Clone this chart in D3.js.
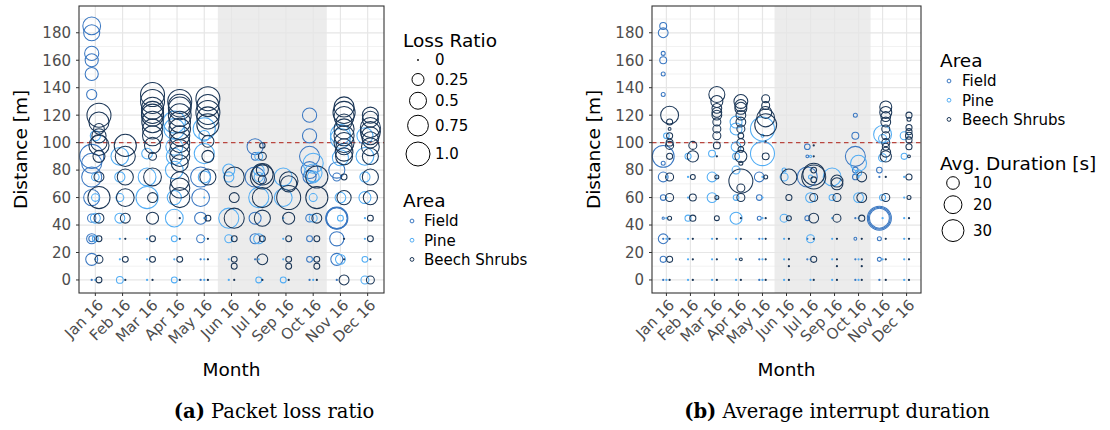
<!DOCTYPE html>
<html>
<head>
<meta charset="utf-8">
<script src="https://cdn.jsdelivr.net/npm/d3@7"></script>
<style>
  body { margin: 0; background: #fff; }
  text { font-family: "DejaVu Sans", sans-serif; }
</style>
</head>
<body>
<svg id="fig" width="1110" height="430"></svg>
<script>
// ---- data ----
const monthKeys = ["Jan", "Feb", "Mar", "Apr", "May", "Jun", "Jul", "Sep", "Oct", "Nov", "Dec"];
const monthLabels = ["Jan 16", "Feb 16", "Mar 16", "Apr 16", "May 16", "Jun 16", "Jul 16", "Sep 16", "Oct 16", "Nov 16", "Dec 16"];
const areaNames = ["Field", "Pine", "Beech Shrubs"];
const areaColors = ["#3b78c2", "#52adf4", "#1c3757"];
const yTicks = [0, 20, 40, 60, 80, 100, 120, 140, 160, 180];
const yMinor = [10, 30, 50, 70, 90, 110, 130, 150, 170, 190];
const shadedMonths = ["Jun", "Oct"];
const limitDistance = 100;
const lossBreaks = [0, 0.25, 0.5, 0.75, 1.0];
const lossLabels = ["0", "0.25", "0.5", "0.75", "1.0"];
const durBreaks = [10, 20, 30];
const durLabels = ["10", "20", "30"];

// [month, distance (m), loss ratio, avg. interrupt duration (s)]
const fieldPoints = [
  ["Jan",185,0.55,3],["Jan",180,0.45,6],["Jan",165,0.35,1],["Jan",160,0.3,3],["Jan",150,0.3,1],
  ["Jan",135,0.18,1],["Jan",90,1.0,30],["Jan",85,0.7,1],["Jan",75,0.7,6],["Jan",60,0.45,2],
  ["Jan",45,0.12,0.3],["Jan",30,0.18,6],["Jan",30,0.06,0],["Jan",15,0.25,2.3],["Jan",0,0,0],
  ["May",75,0.7,6],["May",60,0.55,2],["May",45,0.25,1],["May",30,0.11,0],["May",15,0,0],["May",0,0,0],
  ["Jul",97,0.45,2],["Jul",90,0.1,0.5],["Jul",75,0.7,25],["Jul",45,0.25,1.5],["Jul",30,0.18,0],["Jul",15,0,0],
  ["Oct",120,0.35,1],["Oct",105,0.35,3],["Oct",90,0.7,25],["Oct",80,0.5,2],["Oct",75,0.3,2],
  ["Oct",45,0.1,0],["Oct",30,0.06,0.5],["Oct",15,0.06,0],["Oct",0,0,0],
  ["Nov",80,0.45,2],["Nov",75,0.11,0],["Nov",45,0.85,36],["Nov",45,0.8,30],["Nov",45,0.75,25],
  ["Nov",30,0.35,1],["Nov",15,0.25,1],["Nov",0,0,0]
];
const pinePoints = [
  ["Jan",105,0.18,2],["Jan",75,0.1,0],["Jan",60,0.1,0],["Jan",45,0.17,0],["Jan",30,0.06,0],["Jan",15,0,0],["Jan",0,0,0],
  ["Feb",90,0.55,2.3],["Feb",75,0.18,0],["Feb",60,0.11,0],["Feb",45,0.17,2.3],["Feb",30,0,0],["Feb",15,0,0],["Feb",0,0.08,0],
  ["Mar",92,0.2,3],["Mar",75,0.55,6],["Mar",60,0.85,6],["Mar",30,0,0],["Mar",15,0,0],["Mar",0,0,0],
  ["Apr",115,0.85,9],["Apr",110,0.75,9],["Apr",97,0.5,6],["Apr",90,0.45,3],["Apr",80,0.55,4],
  ["Apr",60,0.35,2],["Apr",45,0.55,9],["Apr",30,0.06,0],["Apr",15,0,0],["Apr",0,0.06,0],
  ["May",110,0.85,36],["May",105,0.2,0.5],["May",92,0.7,36],["May",75,0.25,0],["May",60,0,0],
  ["May",45,0,0],["May",30,0,0],["May",15,0,0],["May",0,0,0],
  ["Jun",80,0.25,1],["Jun",75,0.18,4],["Jun",45,0.7,4],["Jun",30,0.11,0],["Jun",15,0,0],["Jun",0,0,0],
  ["Jul",90,0.11,0.3],["Jul",80,0.2,0],["Jul",75,0.15,1],["Jul",60,0.7,6],["Jul",30,0.18,4],["Jul",15,0,0],["Jul",0,0.06,0],
  ["Sep",75,0.55,20],["Sep",60,0.55,2.3],["Sep",45,0,0],["Sep",30,0,0],["Sep",15,0,0],["Sep",0,0.06,0],
  ["Oct",85,0.7,16],["Oct",78,0.55,2.3],["Oct",75,0.25,0],["Oct",60,0.11,6],["Oct",45,0.11,0],["Oct",15,0,0],["Oct",0,0,0],
  ["Nov",106,0.7,20],["Nov",103,0.7,4],["Nov",89,0.45,4],["Nov",60,0.2,2.3],["Nov",45,0.06,0],["Nov",15,0.17,0],
  ["Dec",105,0.45,4],["Dec",90,0.55,2.3],["Dec",75,0.18,0],["Dec",60,0.25,0],["Dec",45,0,0],
  ["Dec",30,0,0],["Dec",15,0.06,0],["Dec",0,0.11,0]
];
const beechPoints = [
  ["Jan",120,1.0,20],["Jan",115,0.7,2.3],["Jan",110,0.2,0.5],["Jan",105,0.35,2.3],["Jan",100,0.45,3],
  ["Jan",98,0.7,4],["Jan",90,0.25,2.3],["Jan",75,0.17,4],["Jan",60,0.85,4],["Jan",45,0.17,1],
  ["Jan",30,0.06,0],["Jan",15,0.11,2.3],["Jan",0,0.06,0],
  ["Feb",98,0.85,4],["Feb",90,0.7,8],["Feb",75,0.45,1.5],["Feb",60,0.55,3],["Feb",45,0.17,2.3],
  ["Feb",30,0,0],["Feb",15,0.06,0],["Feb",0,0,0],
  ["Mar",135,1.0,16],["Mar",130,1.0,9],["Mar",125,0.85,6],["Mar",122,0.85,6],["Mar",120,0.85,6],
  ["Mar",115,0.8,4],["Mar",110,0.7,4],["Mar",105,0.7,4],["Mar",98,0.45,3],["Mar",90,0.11,0],
  ["Mar",75,0.55,1],["Mar",60,0.17,1],["Mar",45,0.25,1.5],["Mar",30,0.06,0],["Mar",15,0.06,0],["Mar",0,0,0],
  ["Apr",130,1.0,12],["Apr",127,0.9,9],["Apr",125,0.9,9],["Apr",120,0.9,6],["Apr",115,0.8,6],
  ["Apr",110,0.8,4],["Apr",105,0.7,2],["Apr",100,0.7,4],["Apr",95,0.7,2],["Apr",90,0.7,9],
  ["Apr",85,0.5,1],["Apr",72,0.6,36],["Apr",67,0.7,4],["Apr",60,0.7,4],["Apr",45,0,0],
  ["Apr",30,0,0],["Apr",15,0.06,0.5],["Apr",0,0,0],
  ["May",132,1.0,4],["May",127,0.85,4],["May",122,1.0,9],["May",118,0.85,20],["May",113,0.85,30],
  ["May",101,0.25,0],["May",90,0.25,3],["May",75,0.45,1],["May",45,0.06,0],["May",30,0,0],["May",15,0,0],["May",0,0,0],
  ["Jun",75,0.7,16],["Jun",60,0.17,2.3],["Jun",45,0.7,1.5],["Jun",30,0.06,0],["Jun",15,0.06,0],["Jun",10,0.06,0],["Jun",0,0,0],
  ["Jul",98,0.05,0],["Jul",90,0.11,0],["Jul",80,0.25,2],["Jul",77,0.8,30],["Jul",75,1.0,36],["Jul",73,0.11,2],
  ["Jul",60,0.7,4],["Jul",45,0.45,6],["Jul",30,0.06,0],["Jul",15,0.2,2.3],["Jul",0,0,0],
  ["Sep",72,0.6,9],["Sep",70,0.45,9],["Sep",60,1.0,4],["Sep",45,0.25,4],["Sep",30,0.06,0],
  ["Sep",15,0.06,0],["Sep",10,0.06,0],["Sep",0,0,0],
  ["Oct",75,0.85,6],["Oct",60,0.85,6],["Oct",45,0.17,2.3],["Oct",30,0.06,0],["Oct",15,0.06,0],["Oct",10,0.06,0],["Oct",0,0,0],
  ["Nov",126,0.7,9],["Nov",122,0.85,9],["Nov",119,0.7,6],["Nov",115,0.45,6],["Nov",110,0.7,4],
  ["Nov",105,0.7,4],["Nov",100,0.7,4],["Nov",97,0.45,3],["Nov",93,0.55,6],["Nov",90,0.5,8],
  ["Nov",75,0.06,0],["Nov",60,0.35,4],["Nov",30,0,0],["Nov",15,0,0],["Nov",0,0.17,0],
  ["Dec",120,0.45,2.3],["Dec",117,0.45,1],["Dec",111,0.7,2.3],["Dec",108,0.7,2.3],["Dec",105,0.55,3],
  ["Dec",102,0.45,2.3],["Dec",97,0.55,2.3],["Dec",90,0.45,0.5],["Dec",75,0.45,2.3],["Dec",60,0.35,1],
  ["Dec",45,0.06,0],["Dec",30,0.06,0],["Dec",15,0,0],["Dec",0,0.11,0]
];
const areaPoints = [fieldPoints, pinePoints, beechPoints];

// ---- drawing ----
const svg = d3.select("#fig");

// flat list of points, with area index
let points = [];
areaPoints.forEach(function(list, a) {
  list.forEach(function(p) {
    points.push({month: p[0], dist: p[1], loss: p[2], dur: p[3], area: a});
  });
});

// dodge like ggplot: groups present in a month share the slot
let present = {};
monthKeys.forEach(function(m) {
  present[m] = areaNames.map((n, a) => a).filter(a => points.some(p => p.month == m && p.area == a));
});

const rLoss = d3.scaleSqrt().domain([0, 1]).range([0, 12]);
const rDur = d3.scaleSqrt().domain([0, 36]).range([0, 12]);

function drawPanel(left, right, key, rScale) {
  let top = 6, bottom = 293;
  let x = d3.scalePoint().domain(monthKeys).range([left, right]).padding(0.6);
  let y = d3.scaleLinear().domain([-9.5, 199.5]).range([bottom, top]);
  let step = x.step();
  let g = svg.append("g");

  // grid
  g.selectAll(".minor").data(yMinor).enter().append("line")
    .attr("x1", left).attr("x2", right)
    .attr("y1", d => y(d)).attr("y2", d => y(d))
    .attr("stroke", "#ededed").attr("stroke-width", 0.7);
  g.selectAll(".major").data(yTicks).enter().append("line")
    .attr("x1", left).attr("x2", right)
    .attr("y1", d => y(d)).attr("y2", d => y(d))
    .attr("stroke", "#e6e6e6").attr("stroke-width", 1.2);
  g.selectAll(".vmajor").data(monthKeys).enter().append("line")
    .attr("x1", d => x(d)).attr("x2", d => x(d))
    .attr("y1", top).attr("y2", bottom)
    .attr("stroke", "#e6e6e6").attr("stroke-width", 1.2);

  // shaded months
  g.append("rect")
    .attr("x", x(shadedMonths[0]) - step / 2)
    .attr("width", x(shadedMonths[1]) - x(shadedMonths[0]) + step)
    .attr("y", top).attr("height", bottom - top)
    .attr("fill", "#e6e6e6").attr("fill-opacity", 0.75);

  // 100 m line
  g.append("line")
    .attr("x1", left).attr("x2", right)
    .attr("y1", y(limitDistance)).attr("y2", y(limitDistance))
    .attr("stroke", "#b9463f").attr("stroke-width", 1.1)
    .attr("stroke-dasharray", "4.5,3.5");

  // bubbles
  g.selectAll(".pt").data(points).enter().append("circle")
    .attr("cx", function(d) {
      let groups = present[d.month];
      let n = groups.length;
      let idx = groups.indexOf(d.area);
      return x(d.month) + (idx - (n - 1) / 2) * (0.4 * step / n);
    })
    .attr("cy", d => y(d.dist))
    .attr("r", d => Math.max(0.6, rScale(d[key])))
    .attr("fill", "none")
    .attr("stroke", d => areaColors[d.area])
    .attr("stroke-width", 1.05);

  // border
  g.append("rect")
    .attr("x", left).attr("y", top)
    .attr("width", right - left).attr("height", bottom - top)
    .attr("fill", "none").attr("stroke", "#333").attr("stroke-width", 1.1);

  // y axis
  g.selectAll(".ytick").data(yTicks).enter().append("line")
    .attr("x1", left - 3).attr("x2", left)
    .attr("y1", d => y(d)).attr("y2", d => y(d))
    .attr("stroke", "#333");
  g.selectAll(".ylab").data(yTicks).enter().append("text")
    .attr("x", left - 8).attr("y", d => y(d))
    .attr("dy", "0.36em")
    .attr("text-anchor", "end")
    .attr("font-size", 15).attr("fill", "#4d4d4d")
    .text(d => d);

  // x axis
  g.selectAll(".xtick").data(monthKeys).enter().append("line")
    .attr("x1", d => x(d)).attr("x2", d => x(d))
    .attr("y1", bottom).attr("y2", bottom + 3)
    .attr("stroke", "#333");
  g.selectAll(".xlab").data(monthKeys).enter().append("text")
    .attr("transform", d => "translate(" + (x(d) + 1) + "," + (bottom + 5) + ") rotate(-45)")
    .attr("dy", "0.75em")
    .attr("text-anchor", "end")
    .attr("font-size", 15).attr("fill", "#4d4d4d")
    .text((d, i) => monthLabels[i]);

  // titles
  g.append("text")
    .attr("x", (left + right) / 2).attr("y", 376)
    .attr("text-anchor", "middle").attr("font-size", 18.5)
    .text("Month");
  g.append("text")
    .attr("transform", "translate(" + (left - 52) + "," + ((top + bottom) / 2) + ") rotate(-90)")
    .attr("text-anchor", "middle").attr("font-size", 18.5)
    .text("Distance [m]");
}

drawPanel(79, 384, "loss", rLoss);
drawPanel(652, 921, "dur", rDur);

// ---- legends ----
function sizeLegend(lx, ly, title, breaks, labels, rScale, symX, labX) {
  let g = svg.append("g");
  g.append("text").attr("x", lx).attr("y", ly).attr("font-size", 18.5).text(title);
  let cy = ly + 13;
  let prevH = null;
  breaks.forEach(function(b, i) {
    let r = Math.max(0.6, rScale(b));
    let h = Math.max(19.5, 2 * r + 6);
    if (prevH != null) cy += (prevH + h) / 2;
    prevH = h;
    g.append("circle").attr("cx", symX).attr("cy", cy).attr("r", r)
      .attr("fill", "none").attr("stroke", "#000").attr("stroke-width", 1);
    g.append("text").attr("x", labX).attr("y", cy).attr("dy", "0.36em")
      .attr("font-size", 15).text(labels[i]);
  });
}

function areaLegend(lx, ly, symX, labX) {
  let g = svg.append("g");
  g.append("text").attr("x", lx).attr("y", ly).attr("font-size", 18.5).text("Area");
  areaNames.forEach(function(n, i) {
    let cy = ly + 14 + i * 19.2;
    g.append("circle").attr("cx", symX).attr("cy", cy).attr("r", 1.9)
      .attr("fill", "none").attr("stroke", areaColors[i]).attr("stroke-width", 1);
    g.append("text").attr("x", labX).attr("y", cy).attr("dy", "0.36em")
      .attr("font-size", 15).text(n);
  });
}

sizeLegend(403, 47, "Loss Ratio", lossBreaks, lossLabels, rLoss, 418, 435);
areaLegend(403, 207, 412, 424);
areaLegend(940, 67, 949, 962);
sizeLegend(940, 170, "Avg. Duration [s]", durBreaks, durLabels, rDur, 953, 973);

// ---- captions ----
function caption(cx, bold, rest) {
  let t = svg.append("text").attr("x", cx).attr("y", 418)
    .attr("text-anchor", "middle")
    .style("font-family", "'DejaVu Serif', serif").attr("font-size", 19.5);
  t.append("tspan").attr("font-weight", "bold").text(bold);
  t.append("tspan").text(" " + rest);
}
caption(274, "(a)", "Packet loss ratio");
caption(837, "(b)", "Average interrupt duration");
</script>
</body>
</html>
